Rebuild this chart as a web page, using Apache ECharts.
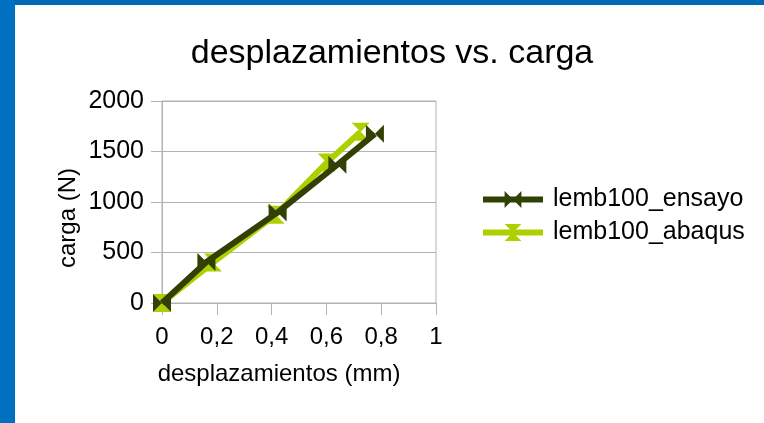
<!DOCTYPE html>
<html>
<head>
<meta charset="utf-8">
<title>desplazamientos vs. carga</title>
<script src="https://cdn.jsdelivr.net/npm/echarts@6/dist/echarts.min.js"></script>
<style>
  html, body { margin: 0; padding: 0; background: #ffffff; }
  #chart { position: absolute; left: 0; top: 0; width: 764px; height: 423px; }
  #edgeTop { position: absolute; left: 0; top: 0; width: 764px; height: 5px; background: #0069b3; }
  #edgeLeft { position: absolute; left: 0; top: 0; width: 15px; height: 423px; background: #0070c0; }
</style>
</head>
<body>
<div id="chart"></div>
<div id="edgeTop"></div>
<div id="edgeLeft"></div>
<script>
// Measured load-displacement curves
const seriesNames = ['lemb100_ensayo', 'lemb100_abaqus'];
const dispEnsayo = [0, 0.162, 0.422, 0.640, 0.777];
const cargaEnsayo = [0, 406, 897, 1369, 1675];
const dispAbaqus = [0, 0.186, 0.415, 0.601, 0.725];
const cargaAbaqus = [0, 400, 874, 1390, 1695];

const xTicks = { min: 0, max: 1, interval: 0.2 };
const yTicks = { min: 0, max: 2000, interval: 500 };

const FONT = '"Liberation Sans", Arial, sans-serif';
const GRAY = '#b3b3b3';

// Hourglass markers: horizontal pair of triangles and vertical pair
const bowtieH = 'path://M0,0 L5,5 L0,10 Z M10,0 L5,5 L10,10 Z';
const bowtieV = 'path://M0,0 L10,0 L5,5 Z M0,10 L5,5 L10,10 Z';

function pairs(xs, ys) {
  return xs.map((x, i) => [x, ys[i]]);
}

const chart = echarts.init(document.getElementById('chart'), null, { renderer: 'canvas' });

chart.setOption({
  animation: false,
  backgroundColor: '#ffffff',
  title: {
    text: 'desplazamientos vs. carga',
    left: 392,
    textAlign: 'center',
    top: 37,
    padding: 0,
    textStyle: { fontFamily: FONT, fontSize: 34, fontWeight: 'normal', color: '#000' }
  },
  legend: {
    orient: 'vertical',
    left: 480,
    top: 187,
    itemWidth: 60,
    itemHeight: 21,
    itemGap: 8,
    padding: 0,
    data: seriesNames,
    lineStyle: { width: 6 },
    textStyle: { fontFamily: FONT, fontSize: 25, color: '#000', padding: [0, 0, 0, 5] }
  },
  grid: {
    left: 162,
    right: 328,
    top: 101,
    bottom: 120,
    show: true,
    borderColor: GRAY,
    borderWidth: 1,
    backgroundColor: 'transparent'
  },
  xAxis: {
    type: 'value',
    min: xTicks.min,
    max: xTicks.max,
    interval: xTicks.interval,
    name: 'desplazamientos (mm)',
    nameLocation: 'middle',
    nameGap: 59,
    nameTextStyle: { fontFamily: FONT, fontSize: 24, color: '#000', padding: [0, 40, 0, 0] },
    axisLine: { show: true, lineStyle: { color: GRAY, width: 1 } },
    axisTick: { show: true, length: 12, lineStyle: { color: GRAY } },
    splitLine: { show: false },
    axisLabel: {
      fontFamily: FONT, fontSize: 24, color: '#000', margin: 22,
      formatter: v => String(+v.toFixed(1)).replace('.', ',')
    }
  },
  yAxis: {
    type: 'value',
    min: yTicks.min,
    max: yTicks.max,
    interval: yTicks.interval,
    name: 'carga (N)',
    nameLocation: 'middle',
    nameGap: 82,
    nameTextStyle: { fontFamily: FONT, fontSize: 24, color: '#000', padding: [0, 32, 0, 0] },
    axisLine: { show: true, lineStyle: { color: GRAY, width: 1 } },
    axisTick: { show: true, length: 11, lineStyle: { color: GRAY } },
    splitLine: { show: true, lineStyle: { color: GRAY, width: 1 } },
    axisLabel: {
      fontFamily: FONT, fontSize: 25, color: '#000', margin: 18,
      formatter: v => String(Math.round(v))
    }
  },
  series: [
    {
      name: seriesNames[0],
      type: 'line',
      z: 3,
      data: pairs(dispEnsayo, cargaEnsayo),
      color: '#314004',
      lineStyle: { width: 6, color: '#314004' },
      itemStyle: { color: '#314004' },
      symbol: bowtieH,
      symbolSize: 18,
      showAllSymbol: true
    },
    {
      name: seriesNames[1],
      type: 'line',
      z: 2,
      data: pairs(dispAbaqus, cargaAbaqus),
      color: '#aecf00',
      lineStyle: { width: 6, color: '#aecf00' },
      itemStyle: { color: '#aecf00' },
      symbol: bowtieV,
      symbolSize: 18,
      showAllSymbol: true
    }
  ]
});
</script>
</body>
</html>
